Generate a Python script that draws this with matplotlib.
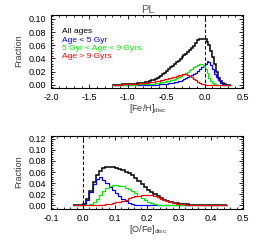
import numpy as np
import matplotlib
matplotlib.use("Agg")
import matplotlib.pyplot as plt
from matplotlib.ticker import MultipleLocator, FormatStrFormatter

plt.rcParams['font.family'] = ['Liberation Sans', 'DejaVu Sans']
plt.rcParams['mathtext.fontset'] = 'custom'
plt.rcParams['mathtext.rm'] = 'Liberation Sans'
plt.rcParams['mathtext.it'] = 'Liberation Sans:italic'
plt.rcParams['axes.unicode_minus'] = True

# ---------------- data ----------------
title = "PL"
legend_labels = ["All ages", "Age < 5 Gyr", "5 Gyr < Age < 9 Gyrs", "Age > 9 Gyrs"]
colors = ["black", "#0000ff", "#00ee00", "#ff0000"]

# [Fe/H] histogram, bin width 0.025 from -1.2 to 0.35
feh_edges = np.round(np.arange(-1.2, 0.35 + 1e-9, 0.025), 4)
feh_all = [0.0001, 0.0001, 0.0002, 0.0002, 0.0003, 0.0004, 0.0005, 0.0006, 0.0008, 0.0010,
           0.0012, 0.0014, 0.0017, 0.0020, 0.0023, 0.0026,
           0.0030, 0.0038, 0.0045, 0.0055, 0.0065, 0.0077, 0.0090, 0.0104, 0.0120, 0.0140,
           0.0162, 0.0185, 0.0210, 0.0236, 0.0262, 0.0288, 0.0315, 0.0342, 0.0368, 0.0394,
           0.0420, 0.0446, 0.0472, 0.0500, 0.0530, 0.0560, 0.0595, 0.0635, 0.0675, 0.0700,
           0.0702, 0.0698,
           0.0690, 0.0655, 0.0600, 0.0520, 0.0420, 0.0310, 0.0190, 0.0105, 0.0050, 0.0020,
           0.0006, 0.0002, 0.0, 0.0]
feh_young = [0.0] * 23 + [0.0003, 0.0005, 0.0007, 0.0009, 0.0012, 0.0015, 0.0019, 0.0024,
             0.0030, 0.0037, 0.0045, 0.0054, 0.0064, 0.0075, 0.0087, 0.0099, 0.0112, 0.0127,
             0.0143, 0.0162, 0.0185, 0.0212, 0.0240, 0.0268, 0.0292, 0.0320, 0.0355, 0.0350,
             0.0300, 0.0235, 0.0170, 0.0110, 0.0065, 0.0032, 0.0012, 0.0003, 0.0, 0.0, 0.0]
feh_mid = [0.0] * 12 + [0.0003, 0.0004, 0.0005, 0.0006, 0.0007, 0.0009, 0.0011, 0.0013,
           0.0015, 0.0018, 0.0021, 0.0025, 0.0029, 0.0034, 0.0039, 0.0045, 0.0052, 0.0060,
           0.0069, 0.0078, 0.0089, 0.0101, 0.0114, 0.0128, 0.0143, 0.0160, 0.0178, 0.0197,
           0.0217, 0.0240, 0.0262, 0.0285, 0.0305, 0.0318, 0.0315, 0.0290, 0.0240, 0.0175,
           0.0105, 0.0050, 0.0020, 0.0007, 0.0002] + [0.0] * 7
feh_old = [0.0001, 0.0001, 0.0002, 0.0002, 0.0003, 0.0004, 0.0005, 0.0006, 0.0007, 0.0009,
           0.0011, 0.0013, 0.0015, 0.0017, 0.0020, 0.0023, 0.0026, 0.0029, 0.0033, 0.0037,
           0.0041, 0.0046, 0.0051, 0.0056, 0.0062, 0.0068, 0.0075, 0.0082, 0.0089, 0.0097,
           0.0105, 0.0113, 0.0122, 0.0131, 0.0143, 0.0155, 0.0163, 0.0165, 0.0158, 0.0146,
           0.0130, 0.0110, 0.0088, 0.0066, 0.0046, 0.0029, 0.0016, 0.0008, 0.0003, 0.0001] + [0.0] * 12

# [O/Fe] histogram, bin width 0.01 from -0.03 to 0.45
ofe_edges = np.round(np.arange(-0.03, 0.45 + 1e-9, 0.01), 4)
ofe_all = [0.0, 0.0003, 0.0008, 0.0030, 0.0110, 0.0250, 0.0420, 0.0540, 0.0620, 0.0670,
           0.0690, 0.0692, 0.0688, 0.0675, 0.0655, 0.0630, 0.0605, 0.0580, 0.0540, 0.0495,
           0.0445, 0.0390, 0.0335, 0.0285, 0.0240, 0.0200, 0.0165, 0.0135, 0.0105, 0.0080,
           0.0060, 0.0045, 0.0034, 0.0026, 0.0020, 0.0016, 0.0013, 0.0011, 0.0009, 0.0008,
           0.0006, 0.0005, 0.0004, 0.0003, 0.0003, 0.0002, 0.0002, 0.0001]
ofe_young = [0.0, 0.0002, 0.0006, 0.0028, 0.0105, 0.0235, 0.0380, 0.0470, 0.0510, 0.0460,
             0.0400, 0.0340, 0.0280, 0.0220, 0.0165, 0.0120, 0.0080, 0.0050, 0.0028, 0.0014,
             0.0006, 0.0002] + [0.0] * 26
ofe_mid = [0.0] * 4 + [0.0005, 0.0025, 0.0065, 0.0120, 0.0190, 0.0255, 0.0310, 0.0345,
           0.0362, 0.0365, 0.0358, 0.0342, 0.0318, 0.0290, 0.0255, 0.0215, 0.0175, 0.0135,
           0.0098, 0.0066, 0.0040, 0.0022, 0.0011, 0.0005, 0.0002] + [0.0] * 19
ofe_old = [0.0] * 7 + [0.0003, 0.0006, 0.0011, 0.0018, 0.0027, 0.0038, 0.0052, 0.0068,
           0.0086, 0.0105, 0.0125, 0.0145, 0.0163, 0.0177, 0.0188, 0.0192, 0.0190, 0.0180,
           0.0163, 0.0142, 0.0118, 0.0094, 0.0072, 0.0054, 0.0040, 0.0030, 0.0023, 0.0018,
           0.0015, 0.0012, 0.0010, 0.0008, 0.0007, 0.0006, 0.0005, 0.0004, 0.0003, 0.0003,
           0.0002, 0.0002, 0.0001]

# ---------------- figure ----------------
W, H = 258, 242
fig = plt.figure(figsize=(W / 100, H / 100), dpi=100)

def px_axes(l, t, r, b):
    return fig.add_axes([l / W, 1 - b / H, (r - l) / W, (b - t) / H])

ax1 = px_axes(51, 15, 243, 88)
ax2 = px_axes(51, 136, 243, 208.7)

label_color = "#3a3a3a"

def style(ax, xmaj, ymaj, xfmt, yfmt):
    ax.xaxis.set_major_locator(MultipleLocator(xmaj))
    ax.xaxis.set_minor_locator(MultipleLocator(xmaj / 5))
    ax.yaxis.set_major_locator(MultipleLocator(ymaj))
    ax.yaxis.set_minor_locator(MultipleLocator(ymaj / 5))
    ax.xaxis.set_major_formatter(FormatStrFormatter(xfmt))
    ax.yaxis.set_major_formatter(FormatStrFormatter(yfmt))
    ax.tick_params(which='both', direction='in', top=True, right=True,
                   labelsize=6.5, pad=3.5, width=0.6, colors='black')
    ax.tick_params(which='major', length=3)
    ax.tick_params(which='minor', length=1.5)
    for s in ax.spines.values():
        s.set_linewidth(0.8)

series_top = [feh_all, feh_young, feh_mid, feh_old]
for vals, c in zip(series_top, colors):
    ax1.stairs(vals, feh_edges, baseline=None, color=c,
               linewidth=1.1 if c == "black" else 0.9)
ax1.axvline(0.0, color='black', linestyle=(0, (3, 2)), linewidth=0.8)
ax1.set_xlim(-2.0, 0.5)
ax1.set_ylim(-0.005, 0.106)
style(ax1, 0.5, 0.02, '%.1f', '%.2f')

series_bot = [ofe_all, ofe_young, ofe_mid, ofe_old]
for vals, c in zip(series_bot, colors):
    ax2.stairs(vals, ofe_edges, baseline=None, color=c,
               linewidth=1.1 if c == "black" else 0.9)
ax2.axvline(0.0, color='black', linestyle=(0, (3, 2)), linewidth=0.8)
ax2.set_xlim(-0.1, 0.5)
ax2.set_ylim(-0.006, 0.125)
style(ax2, 0.1, 0.02, '%.1f', '%.2f')

# legend texts
for lbl, c, ypx in zip(legend_labels, colors, [31.7, 40.7, 48.7, 56.7]):
    ax1.text((62.5 - 51) / 192, (88 - ypx) / 73, lbl, color=c, fontsize=6,
             ha='left', va='center', transform=ax1.transAxes)

fig.text(148 / W, 1 - 10 / H, title, ha='center', va='center', fontsize=8, color='#606060')
fig.text(19 / W, 1 - 51 / H, "Fraction", rotation=90, ha='center', va='center',
         fontsize=6.5, color=label_color)
fig.text(19 / W, 1 - 172 / H, "Fraction", rotation=90, ha='center', va='center',
         fontsize=6.5, color=label_color)
fig.text(148 / W, 1 - 108 / H, r"[Fe/H]$_{\mathrm{disc}}$", ha='center', va='center',
         fontsize=6.5, color=label_color)
fig.text(148 / W, 1 - 229 / H, r"[O/Fe]$_{\mathrm{disc}}$", ha='center', va='center',
         fontsize=6.5, color=label_color)

fig.savefig("out.png", dpi=100)
